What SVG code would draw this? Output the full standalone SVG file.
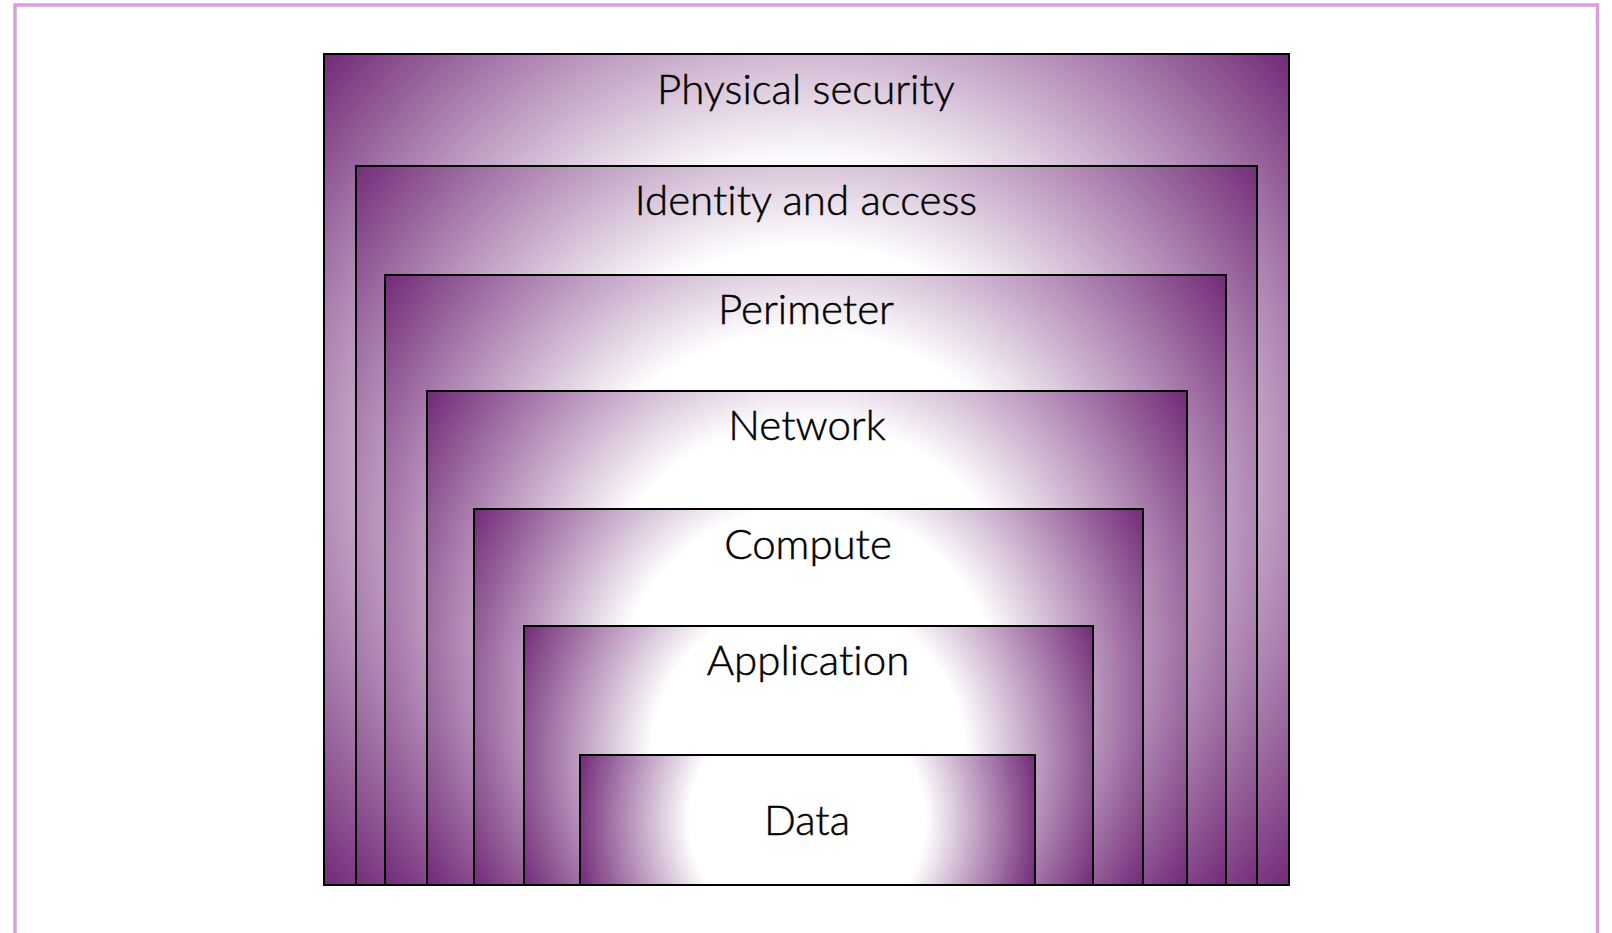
<svg xmlns="http://www.w3.org/2000/svg" width="1612" height="933" viewBox="0 0 1612 933">
<style>
.layer{stroke:#000;stroke-width:2}
.lbl{font-family:Lato,"Open Sans","Liberation Sans",sans-serif;font-size:42px;font-weight:300;fill:#000;stroke:#000;stroke-width:0.5;text-anchor:middle;font-variant-ligatures:none;font-feature-settings:"liga" 0}
</style>
<defs>
<radialGradient id="g1" gradientUnits="userSpaceOnUse" cx="806.5" cy="469.5" r="636">
<stop offset="0" stop-color="#fff"/><stop offset="0.48" stop-color="#fff"/><stop offset="1" stop-color="#722A78"/></radialGradient>
<radialGradient id="g2" gradientUnits="userSpaceOnUse" cx="806.5" cy="525.5" r="581">
<stop offset="0" stop-color="#fff"/><stop offset="0.48" stop-color="#fff"/><stop offset="1" stop-color="#722A78"/></radialGradient>
<radialGradient id="g3" gradientUnits="userSpaceOnUse" cx="805.5" cy="580" r="519">
<stop offset="0" stop-color="#fff"/><stop offset="0.48" stop-color="#fff"/><stop offset="1" stop-color="#722A78"/></radialGradient>
<radialGradient id="g4" gradientUnits="userSpaceOnUse" cx="807" cy="638" r="451">
<stop offset="0" stop-color="#fff"/><stop offset="0.48" stop-color="#fff"/><stop offset="1" stop-color="#722A78"/></radialGradient>
<radialGradient id="g5" gradientUnits="userSpaceOnUse" cx="808.5" cy="697" r="383">
<stop offset="0" stop-color="#fff"/><stop offset="0.5" stop-color="#fff"/><stop offset="1" stop-color="#722A78"/></radialGradient>
<radialGradient id="g6" gradientUnits="userSpaceOnUse" cx="808.5" cy="755.5" r="313">
<stop offset="0" stop-color="#fff"/><stop offset="0.5" stop-color="#fff"/><stop offset="1" stop-color="#722A78"/></radialGradient>
<radialGradient id="g7" gradientUnits="userSpaceOnUse" cx="807.5" cy="820" r="236">
<stop offset="0" stop-color="#fff"/><stop offset="0.5" stop-color="#fff"/><stop offset="1" stop-color="#722A78"/></radialGradient>
</defs>
<rect x="0" y="0" width="1612" height="933" fill="#fff"/>
<rect id="frame" x="15" y="5" width="1582.5" height="960" fill="none" stroke="#DA9EDA" stroke-width="3.5"/>
<g id="physical">
<rect class="layer" x="324" y="54" width="965" height="831" fill="url(#g1)"/>
<text class="lbl" x="806" y="104">Physical security</text>
</g>
<g id="identity">
<rect class="layer" x="356" y="166" width="901" height="719" fill="url(#g2)"/>
<text class="lbl" x="806" y="215">Identity and access</text>
</g>
<g id="perimeter">
<rect class="layer" x="385" y="275" width="841" height="610" fill="url(#g3)"/>
<text class="lbl" x="806" y="324">Perimeter</text>
</g>
<g id="network">
<rect class="layer" x="427" y="391" width="760" height="494" fill="url(#g4)"/>
<text class="lbl" x="807" y="440">Network</text>
</g>
<g id="compute">
<rect class="layer" x="474" y="509" width="669" height="376" fill="url(#g5)"/>
<text class="lbl" x="808" y="559">Compute</text>
</g>
<g id="application">
<rect class="layer" x="524" y="626" width="569" height="259" fill="url(#g6)"/>
<text class="lbl" x="808" y="675">Application</text>
</g>
<g id="data">
<rect class="layer" x="580" y="755" width="455" height="130" fill="url(#g7)"/>
<text class="lbl" x="807" y="835">Data</text>
</g>
<g id="connectors"/>
</svg>
